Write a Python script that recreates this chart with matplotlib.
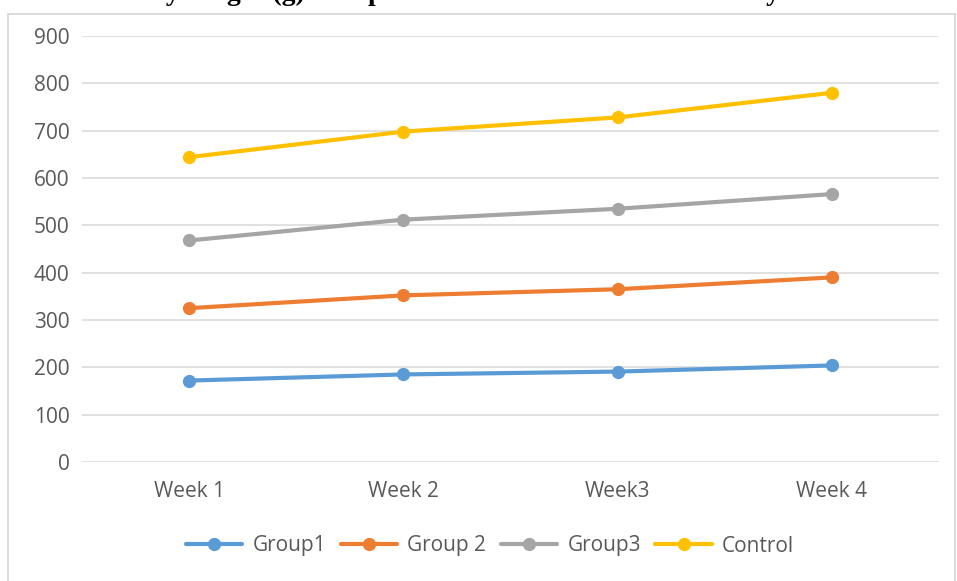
import matplotlib
matplotlib.use("Agg")
import matplotlib.pyplot as plt
from matplotlib.patches import Rectangle

# Data
weeks = ["Week 1", "Week 2", "Week3", "Week 4"]
group1 = [172, 185, 191, 204]
group2 = [325, 352, 365, 390]
group3 = [468, 512, 535, 566]
control = [644, 698, 728, 780]
series_names = ["Group1", "Group 2", "Group3", "Control"]
y_ticks = [0, 100, 200, 300, 400, 500, 600, 700, 800, 900]

colors = ["#5B9BD5", "#ED7D31", "#A5A5A5", "#FFC000"]
W, H = 957, 581

plt.rcParams["font.family"] = ["Open Sans", "DejaVu Sans"]

fig = plt.figure(figsize=(W / 100, H / 100), dpi=100)
fig.patch.set_facecolor("white")

# Caption running across the top edge of the page (only its lowest strokes fall inside)
prefix = "Table 1: Effect of treatment on the bod"
caption = prefix + "y weight (g) of experimental rabbits at different days of treatment"
probe = fig.text(0, 0, prefix, fontsize=20, family="Liberation Serif", weight="bold")
renderer = fig.canvas.get_renderer()
pw = probe.get_window_extent(renderer).width
probe.remove()
fig.text((166 - pw) / W, 1 - 0.5 / H, caption, fontsize=20,
         family="Liberation Serif", weight="bold", ha="left", va="baseline",
         color="black")

# Chart area frame
fig.patches.append(Rectangle((8 / W, -0.01), 947 / W, 1 - 14 / H + 0.01,
                             transform=fig.transFigure, fill=False,
                             edgecolor="#d4d4d4", lw=1.2, zorder=0))

left, right = 82 / W, 939 / W
bottom, top = 1 - 462 / H, 1 - 36 / H
ax = fig.add_axes([left, bottom, right - left, top - bottom])

x = list(range(len(weeks)))
for vals, name, c in zip([group1, group2, group3, control], series_names, colors):
    ax.plot(x, vals, color=c, lw=3.0, marker="o", markersize=8.5,
            markerfacecolor=c, markeredgecolor=c, label=name,
            solid_capstyle="round", zorder=3)

ax.set_xlim(-0.5, len(weeks) - 0.5)
ax.set_ylim(0, 900)
ax.set_yticks(y_ticks)
ax.set_xticks(x)
ax.set_xticklabels(weeks)
ax.yaxis.grid(True, color="#d9d9d9", lw=1.1)
ax.set_axisbelow(True)
for s in ax.spines.values():
    s.set_visible(False)
ax.tick_params(axis="both", length=0, labelsize=15, colors="#595959")
ax.tick_params(axis="y", pad=9)
ax.tick_params(axis="x", pad=14)

leg = fig.legend(loc="center", bbox_to_anchor=(490 / W, 1 - 546 / H), ncol=4,
                 frameon=False, fontsize=15, handlelength=2.7,
                 handletextpad=0.5, columnspacing=0.7)
for txt in leg.get_texts():
    txt.set_color("#595959")

fig.savefig("out.png", dpi=100, facecolor="white")
